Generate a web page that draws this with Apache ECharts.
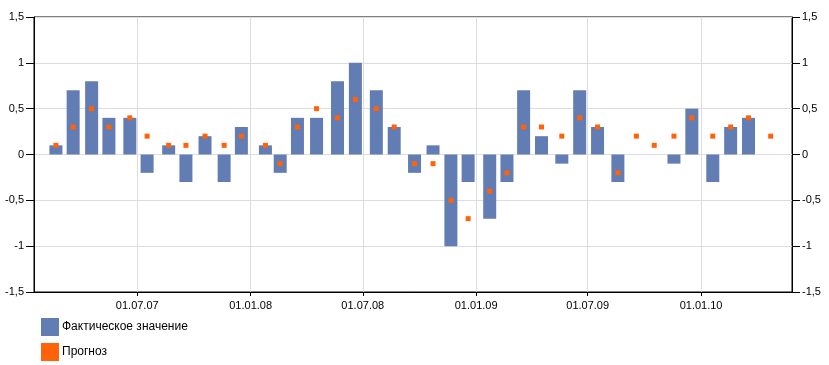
<!DOCTYPE html>
<html>
<head>
<meta charset="utf-8">
<script src="https://cdn.jsdelivr.net/npm/echarts@6/dist/echarts.min.js"></script>
<style>html,body{margin:0;padding:0;background:#fff}#c{width:829px;height:365px}</style>
</head>
<body>
<div id="c"></div>
<script>
var dates = ['2007-02-19','2007-03-19','2007-04-18','2007-05-16','2007-06-19','2007-07-17','2007-08-21','2007-09-18','2007-10-19','2007-11-19','2007-12-17','2008-01-25','2008-02-18','2008-03-17','2008-04-17','2008-05-21','2008-06-19','2008-07-23','2008-08-21','2008-09-23','2008-10-23','2008-11-21','2008-12-19','2009-01-23','2009-02-20','2009-03-19','2009-04-17','2009-05-20','2009-06-18','2009-07-17','2009-08-19','2009-09-18','2009-10-17','2009-11-18','2009-12-17','2010-01-20','2010-02-18','2010-03-19','2010-04-24'];
var actual = [0.1,0.7,0.8,0.4,0.4,-0.2,0.1,-0.3,0.2,-0.3,0.3,0.1,-0.2,0.4,0.4,0.8,1.0,0.7,0.3,-0.2,0.1,-1.0,-0.3,-0.7,-0.3,0.7,0.2,-0.1,0.7,0.3,-0.3,null,null,-0.1,0.5,-0.3,0.3,0.4,null];
var forecast = [0.1,0.3,0.5,0.3,0.4,0.2,0.1,0.1,0.2,0.1,0.2,0.1,-0.1,0.3,0.5,0.4,0.6,0.5,0.3,-0.1,-0.1,-0.5,-0.7,-0.4,-0.2,0.3,0.3,0.2,0.4,0.3,-0.2,0.2,0.1,0.2,0.4,0.2,0.3,0.4,0.2];
var seriesNames = ['Фактическое значение', 'Прогноз'];
var xMin = '2007-01-25', xMax = '2010-05-18';
var yMin = -1.5, yMax = 1.5, yStep = 0.5;

function pad(n){return (n<10?'0':'')+n;}
function fmtDate(v){var d=new Date(v);return pad(d.getDate())+'.'+pad(d.getMonth()+1)+'.'+pad(d.getFullYear()%100);}
function fmtNum(v){return String(v).replace('.', ',');}

var barData = dates.map(function(d,i){return [d, actual[i]];}).filter(function(p){return p[1]!==null;});
var ptData = dates.map(function(d,i){return [d, forecast[i]];});

var font = 'Liberation Sans';
var chart = echarts.init(document.getElementById('c'), null, {renderer:'canvas'});
var yAxisBase = {
  type:'value', min:yMin, max:yMax, interval:yStep,
  axisLine:{show:true, lineStyle:{color:'#000', width:1}},
  axisTick:{show:true, length:8, lineStyle:{color:'#000'}},
  axisLabel:{formatter:fmtNum, color:'#000', fontFamily:font, fontSize:11, margin:10}
};
chart.setOption({
  animation:false,
  grid:{left:34, right:37, top:17, bottom:73, show:true, borderColor:'#000', borderWidth:1, containLabel:false},
  legend:{
    orient:'vertical', left:41, top:318, padding:0, itemWidth:18, itemHeight:18, itemGap:7, icon:'rect',
    textStyle:{color:'#000', fontFamily:font, fontSize:12, padding:[0,0,0,-2]},
    data:seriesNames
  },
  xAxis:{
    type:'time', min:xMin, max:xMax,
    minInterval:182*86400000, maxInterval:184*86400000,
    axisLine:{show:true, onZero:false, lineStyle:{color:'#000'}},
    axisTick:{show:true, length:4, lineStyle:{color:'#000'}},
    axisLabel:{formatter:fmtDate, color:'#000', fontFamily:font, fontSize:11, margin:8, showMinLabel:false, showMaxLabel:false},
    splitLine:{show:true, lineStyle:{color:'#dddddd'}}
  },
  yAxis:[
    Object.assign({}, yAxisBase, {position:'left', splitLine:{show:true, lineStyle:{color:'#dddddd'}}}),
    Object.assign({}, yAxisBase, {position:'right', splitLine:{show:false}})
  ],
  series:[
    {name:seriesNames[0], type:'bar', data:barData, barWidth:13, itemStyle:{color:'#627db3', borderWidth:0, opacity:1}, yAxisIndex:0},
    {name:seriesNames[1], type:'scatter', data:ptData, symbol:'rect', symbolSize:5, itemStyle:{color:'#ff6208', opacity:1, borderWidth:0}, yAxisIndex:0, z:5}
  ]
});
</script>
</body>
</html>
